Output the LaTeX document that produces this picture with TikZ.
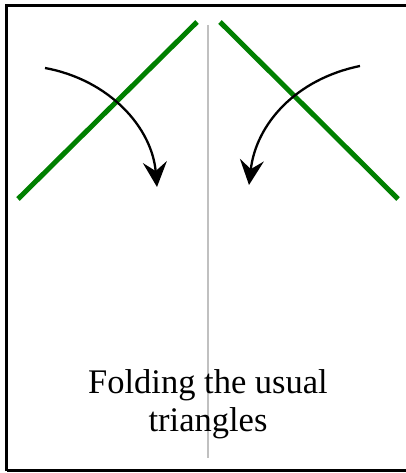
\documentclass[tikz,border=0pt]{standalone}
\usepackage{fontspec}
\setmainfont{Liberation Serif}
\usetikzlibrary{arrows.meta,positioning}
\definecolor{FoldGreen}{RGB}{0,128,0}
\definecolor{FoldGray}{RGB}{192,192,192}

\begin{document}
\begin{tikzpicture}[x=1pt,y=-1pt,
    foldline/.style={line width=5pt, FoldGreen},
    foldarrow/.style={line width=2.3pt, -{Stealth[length=25pt,width=24pt,inset=9pt]}}]
    \useasboundingbox (0,0) rectangle (406,473);
    \clip (0,0) rectangle (406,473);
    % Draw sheet and middle crease
    \draw[line width=3pt] (6.5,470.5) -- (6.5,5.5) -- (420,5.5);
    \draw[line width=3pt] (6.5,470.5) -- (420,470.5);
    \coordinate (creaseTop) at (208,25);
    \coordinate (creaseBot) at (208,458);
    \draw[line width=2.2pt, FoldGray] (creaseTop) -- (creaseBot);
    % Draw fold lines
    \coordinate (lTop) at (197,22);
    \coordinate (lBot) at (18,199);
    \coordinate (rTop) at (220,22);
    \coordinate (rBot) at (398,199);
    \draw[foldline] (lBot) -- (lTop);
    \draw[foldline] (rTop) -- (rBot);
    % Draw folding arrows
    \coordinate (lStart) at (45,68);
    \coordinate (lEnd) at (157,187);
    \coordinate (rStart) at (360,66);
    \coordinate (rEnd) at (249,185);
    \draw[foldarrow] (lStart) .. controls (110,80) and (152,128) .. (lEnd);
    \draw[foldarrow] (rStart) .. controls (296,79) and (256,124) .. (rEnd);
    \node[font=\fontsize{34.5}{38}\selectfont, align=center, inner sep=0pt] (caption) at (208,404) {Folding the usual\\triangles};
\end{tikzpicture}
\end{document}
